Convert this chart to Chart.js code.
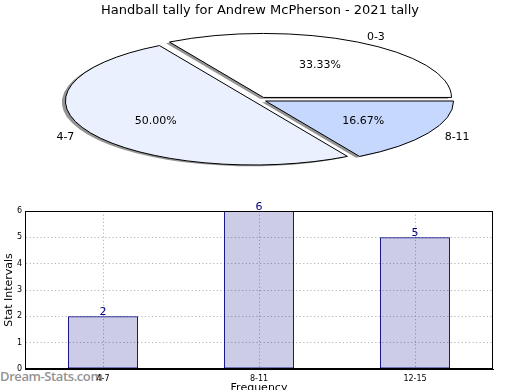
<!DOCTYPE html>
<html>
<head>
<meta charset="utf-8">
<script src="https://cdn.jsdelivr.net/npm/chart.js@4.4.1/dist/chart.umd.min.js"></script>
<style>
  html, body { margin: 0; padding: 0; background: #fff; overflow: hidden; }
  body { width: 520px; height: 390px; position: relative; }
  #grafico_Pastel { position: absolute; left: 0; top: 0; }
  #grafico_Barras { position: absolute; left: 0; top: 200px; }
  #marca { position: absolute; left: 0; top: 369px; font: 600 13px/14px 'Open Sans', sans-serif; letter-spacing: -0.4px; color: #939393; }
</style>
</head>
<body>
<div id="marca">Dream-Stats.com</div>
<canvas id="grafico_Pastel" width="520" height="200"></canvas>
<canvas id="grafico_Barras" width="520" height="200"></canvas>
<script>
// Datos del pastel (porcentajes 33.33 / 50 / 16.67)
const etiquetasPastel = ['0-3', '4-7', '8-11'];
const valoresPastel = [2, 3, 1];
const coloresPastel = ['#ffffff', '#eaf0fd', '#c6d8fd'];

// Datos de las barras
const etiquetasBarras = ['4-7', '8-11', '12-15'];
const valoresBarras = [2, 6, 5];

Chart.defaults.font.family = '"DejaVu Sans", sans-serif';
Chart.defaults.color = '#000';

// El pastel se dibuja en sentido contrario (como matplotlib), por eso se invierte
const ordenPastel = [2, 1, 0];
const escalaY = 64 / 188;          // achatamiento del pastel
const centroPastel = {x: 259.5, y: 99.8};
const separacion = [7, 7, 8];      // desplazamiento de cada porción (orden de dibujo)

const pastelPlano = {
    id: 'pastelPlano',
    beforeDatasetsDraw(chart) {
        const ctx = chart.ctx;
        const meta = chart.getDatasetMeta(0);
        const dpr = chart.currentDevicePixelRatio;
        const arco0 = meta.data[0];

        ctx.save();
        ctx.translate(centroPastel.x, centroPastel.y);
        ctx.scale(1, escalaY);
        ctx.translate(-arco0.x, -arco0.y);

        // separar cada porción del centro
        meta.data.forEach((arco, i) => {
            if (arco._dibujoOriginal) return;
            arco._dibujoOriginal = arco.draw;
            arco.draw = function (c) {
                const medio = (this.startAngle + this.endAngle) / 2;
                c.save();
                c.translate(Math.cos(medio) * separacion[i], Math.sin(medio) * separacion[i]);
                this._dibujoOriginal(c);
                c.restore();
            };
        });

        // sombra solo en el relleno, y borde sin deformar
        const rellenoOriginal = ctx.fill;
        ctx.fill = function (...args) {
            this.save();
            this.shadowColor = 'rgba(60, 60, 60, 0.55)';
            this.shadowOffsetX = -3.5;
            this.shadowOffsetY = 1.3;
            rellenoOriginal.apply(this, args);
            this.restore();
        };
        const trazoOriginal = ctx.stroke;
        ctx.stroke = function (...args) {
            this.save();
            this.setTransform(dpr, 0, 0, dpr, 0, 0);
            trazoOriginal.apply(this, args);
            this.restore();
        };
    },
    afterDatasetsDraw(chart) {
        const ctx = chart.ctx;
        delete ctx.fill;
        delete ctx.stroke;
        ctx.restore();

        // etiquetas y porcentajes
        const meta = chart.getDatasetMeta(0);
        const valores = chart.data.datasets[0].data;
        const total = valores.reduce((a, b) => a + b, 0);
        ctx.save();
        ctx.font = '11px "DejaVu Sans"';
        ctx.fillStyle = '#000';
        ctx.textBaseline = 'middle';
        meta.data.forEach((arco, i) => {
            const medio = (arco.startAngle + arco.endAngle) / 2;
            const cos = Math.cos(medio), sin = Math.sin(medio);
            const vx = centroPastel.x + cos * separacion[i];
            const vy = centroPastel.y + sin * separacion[i] * escalaY;
            const r = arco.outerRadius;
            ctx.textAlign = cos > 0 ? 'left' : 'right';
            ctx.fillText(chart.data.labels[i], vx + cos * r * 1.1, vy + sin * r * 1.1 * escalaY + 1);
            ctx.textAlign = 'center';
            const pct = (valores[i] / total * 100).toFixed(2) + '%';
            ctx.fillText(pct, vx + cos * r * 0.6, vy + sin * r * 0.6 * escalaY + 1);
        });
        ctx.restore();
    }
};

new Chart(document.getElementById('grafico_Pastel').getContext('2d'), {
    type: 'pie',
    data: {
        labels: ordenPastel.map(i => etiquetasPastel[i]),
        datasets: [{
            data: ordenPastel.map(i => valoresPastel[i]),
            backgroundColor: ordenPastel.map(i => coloresPastel[i]),
            borderColor: '#000',
            borderWidth: 1,
            borderJoinStyle: 'miter',
            radius: 188
        }]
    },
    options: {
        responsive: false,
        animation: false,
        rotation: 90,
        radius: 188,
        events: [],
        plugins: {
            legend: {display: false},
            tooltip: {enabled: false},
            title: {
                display: true,
                text: 'Handball tally for Andrew McPherson - 2021 tally',
                font: {size: 13, weight: 'normal'},
                color: '#000',
                padding: {top: 3, bottom: 0}
            }
        }
    },
    plugins: [pastelPlano]
});

// Marco completo y valores encima de cada barra
const marcoYValores = {
    id: 'marcoYValores',
    afterDraw(chart) {
        const {ctx, chartArea: a} = chart;
        ctx.save();
        ctx.strokeStyle = '#000';
        ctx.lineWidth = 1;
        ctx.strokeRect(Math.round(a.left) + 0.5, Math.round(a.top) + 0.5,
            Math.round(a.width) - 1, Math.round(a.height) - 1);
        const meta = chart.getDatasetMeta(0);
        ctx.fillStyle = '#000080';
        ctx.font = '11px "DejaVu Sans"';
        ctx.textAlign = 'center';
        ctx.textBaseline = 'alphabetic';
        meta.data.forEach((barra, i) => ctx.fillText(String(valoresBarras[i]), barra.x, barra.y - 1));
        ctx.restore();
    }
};

// rejilla punteada gris (en v4 el guion de la rejilla va en border.dash)
const rejilla = {color: '#b4b4b4', lineWidth: 1, drawTicks: false};
const bordeEje = {color: '#000', dash: [1.2, 2.4]};

new Chart(document.getElementById('grafico_Barras').getContext('2d'), {
    type: 'bar',
    data: {
        labels: etiquetasBarras,
        datasets: [{
            data: valoresBarras,
            backgroundColor: 'rgba(0, 0, 128, 0.2)',
            borderColor: '#000080',
            borderWidth: 1,
            borderSkipped: false,
            categoryPercentage: 1,
            barPercentage: 0.45
        }]
    },
    options: {
        responsive: false,
        animation: false,
        events: [],
        layout: {padding: {left: 0, right: 27, top: 11, bottom: 0}},
        plugins: {legend: {display: false}, tooltip: {enabled: false}},
        scales: {
            x: {
                z: 1,
                grid: {...rejilla, offset: false},
                border: bordeEje,
                ticks: {font: {size: 8}, padding: 5, color: '#000'},
                title: {display: true, text: 'Frequency', font: {size: 11}, padding: {top: 0, bottom: 5}},
                afterFit: (escala) => { escala.height = 31; }
            },
            y: {
                z: 1,
                min: 0,
                max: 6,
                grid: rejilla,
                border: bordeEje,
                ticks: {stepSize: 1, font: {size: 8}, padding: 3, color: '#000'},
                title: {display: true, text: 'Stat Intervals', font: {size: 11}, padding: {top: 2.5, bottom: 0}},
                afterFit: (escala) => { escala.width = 25; }
            }
        }
    },
    plugins: [marcoYValores]
});
</script>
</body>
</html>
